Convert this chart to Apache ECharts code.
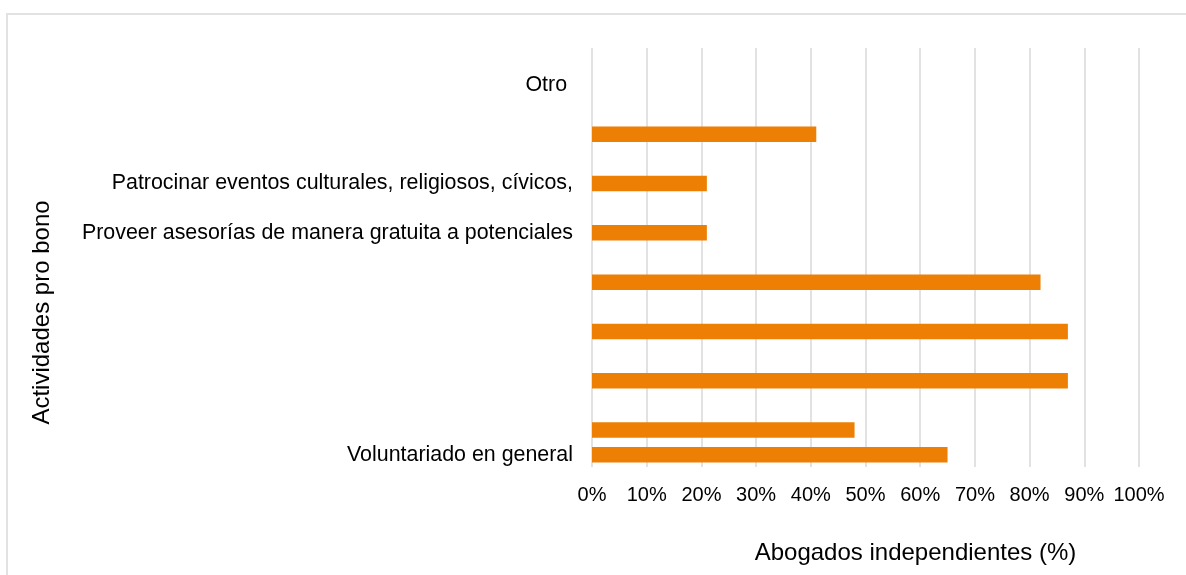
<!DOCTYPE html>
<html>
<head>
<meta charset="utf-8">
<script src="https://cdn.jsdelivr.net/npm/echarts@6/dist/echarts.min.js"></script>
<style>
  html, body { margin: 0; padding: 0; background: #fff; overflow: hidden; }
  #frame {
    position: absolute; left: 6px; top: 13px;
    width: 1300px; height: 700px;
    border: 2px solid #e2e2e2; box-sizing: border-box;
  }
  #chart { position: absolute; left: 0; top: 0; width: 1186px; height: 575px; }
</style>
</head>
<body>
<div id="frame"></div>
<div id="chart"></div>
<script>
// one slot per category, top to bottom; blank slots keep the original spacing
const categories = [
  "", "Otro ", "", "", "",
  "Patrocinar eventos culturales, religiosos, cívicos,", "",
  "Proveer asesorías de manera gratuita a potenciales", "",
  "", "", "", "", "", "", "",
  "Voluntariado en general",
];
const values = [null, 0, null, 41, null, 21, null, 21, null, 82, null, 87, null, 87, null, 48, 65];
const xTicks = { min: 0, max: 100, step: 10 };

const font = "'Liberation Sans', Arial, sans-serif";
const chart = echarts.init(document.getElementById("chart"));

chart.setOption({
  animation: false,
  textStyle: { fontFamily: font },
  grid: { left: 592, top: 48, width: 547, height: 419, containLabel: false },
  xAxis: {
    type: "value",
    min: xTicks.min,
    max: xTicks.max,
    interval: xTicks.step,
    axisLine: { show: false },
    axisTick: { show: false },
    axisLabel: { formatter: "{value}%", color: "#000", fontSize: 20, margin: 18, fontFamily: font },
    splitLine: { lineStyle: { color: "#d9d9d9", width: 1.5 } },
    name: "Abogados independientes (%)",
    nameLocation: "middle",
    nameGap: 74,
    nameTextStyle: { color: "#000", fontSize: 24, fontFamily: font, padding: [0, 0, 0, 100] },
  },
  yAxis: {
    type: "category",
    data: categories,
    inverse: true,
    axisLine: { show: false },
    axisTick: { show: false },
    splitLine: { show: false },
    axisLabel: { interval: 0, color: "#000", fontSize: 21.4, margin: 19, padding: [5, 0, 0, 0], fontFamily: font },
    name: "Actividades pro bono",
    nameLocation: "middle",
    nameGap: 538,
    nameTextStyle: { color: "#000", fontSize: 24, fontFamily: font, padding: [0, 110, 0, 0] },
  },
  series: [
    {
      type: "bar",
      data: values,
      barWidth: "63%",
      itemStyle: { color: "#ed8004" },
    },
  ],
});
</script>
</body>
</html>
